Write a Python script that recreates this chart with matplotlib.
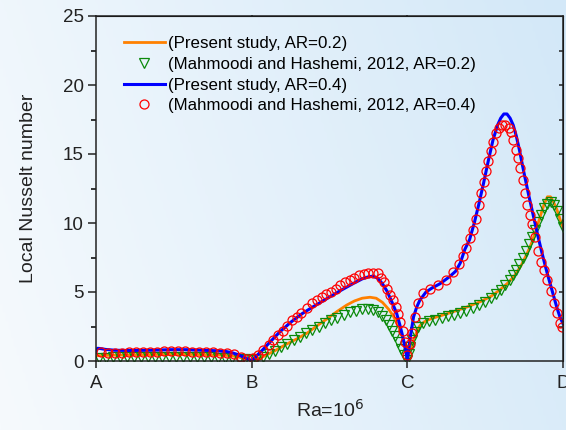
import matplotlib
matplotlib.use("Agg")
import matplotlib.pyplot as plt
import numpy as np
from matplotlib.colors import LinearSegmentedColormap

plt.rcParams['font.family'] = ['Liberation Sans', 'DejaVu Sans']

# 沿壁面 A-B-C-D 的局部努塞尔数
# 本文结果, AR=0.2
x_ar02 = [0.00, 0.10, 0.25, 0.40, 0.55, 0.70, 0.82, 0.88, 0.93, 0.97, 1.00,
          1.04, 1.08, 1.15, 1.22, 1.29, 1.36, 1.42, 1.49, 1.55, 1.61, 1.66, 1.71, 1.76, 1.80, 1.84, 1.88,
          1.91, 1.94, 1.96, 1.98, 2.00,
          2.02, 2.04, 2.06, 2.08, 2.11, 2.15, 2.22, 2.29, 2.38, 2.47, 2.54, 2.60, 2.65, 2.69, 2.73, 2.77,
          2.80, 2.83, 2.86, 2.88, 2.90, 2.92, 2.94, 2.96, 2.98, 3.00]
nu_ar02 = [0.38, 0.42, 0.45, 0.47, 0.48, 0.46, 0.42, 0.36, 0.25, 0.12, 0.05,
           0.15, 0.35, 0.75, 1.20, 1.60, 2.05, 2.55, 3.10, 3.60, 4.05, 4.35, 4.55, 4.62, 4.55, 4.25, 3.75,
           3.25, 2.60, 2.05, 1.30, 0.10,
           0.80, 1.50, 2.10, 2.55, 2.85, 3.05, 3.30, 3.55, 3.90, 4.30, 4.70, 5.20, 5.70, 6.20, 6.90, 7.80,
           8.60, 9.60, 10.70, 11.40, 11.90, 11.90, 11.50, 11.00, 10.30, 9.70]

# Mahmoodi and Hashemi (2012), AR=0.2
x_mh02 = [0.02, 0.065, 0.11, 0.155, 0.20, 0.245, 0.29, 0.335, 0.38, 0.425, 0.47, 0.515, 0.56, 0.605,
          0.65, 0.695, 0.74, 0.785, 0.83, 0.875, 0.92, 0.96, 1.00,
          1.03, 1.07, 1.11, 1.15, 1.19, 1.23, 1.27, 1.31, 1.35, 1.39, 1.43, 1.47, 1.51, 1.55, 1.59, 1.63,
          1.67, 1.71, 1.75, 1.78, 1.81, 1.84, 1.86, 1.88, 1.90, 1.92, 1.94, 1.96, 1.98, 2.00,
          2.01, 2.02, 2.03, 2.05, 2.07, 2.10, 2.14, 2.18, 2.22, 2.26, 2.30, 2.34, 2.38, 2.42, 2.46, 2.50,
          2.54, 2.57, 2.60, 2.63, 2.66, 2.68, 2.70, 2.72, 2.74, 2.76, 2.78, 2.80, 2.82, 2.84, 2.86, 2.88,
          2.90, 2.92, 2.94, 2.96, 2.98, 3.00]
nu_mh02 = [0.25, 0.25, 0.26, 0.26, 0.27, 0.27, 0.28, 0.28, 0.28, 0.28, 0.28, 0.28, 0.27, 0.27,
           0.27, 0.26, 0.26, 0.25, 0.24, 0.22, 0.18, 0.12, 0.06,
           0.12, 0.28, 0.50, 0.75, 1.00, 1.25, 1.50, 1.75, 2.00, 2.25, 2.50, 2.72, 2.95, 3.15, 3.35, 3.52,
           3.65, 3.75, 3.78, 3.72, 3.55, 3.25, 2.95, 2.60, 2.20, 1.80, 1.35, 0.90, 0.45, 0.10,
           0.50, 1.00, 1.50, 2.10, 2.50, 2.75, 2.90, 3.00, 3.10, 3.25, 3.35, 3.50, 3.65, 3.85, 4.05, 4.30,
           4.60, 4.85, 5.15, 5.50, 5.90, 6.20, 6.60, 7.00, 7.50, 8.00, 8.50, 9.00, 9.50, 10.10, 10.60, 11.10,
           11.40, 11.50, 11.30, 10.90, 10.30, 9.70]

# 本文结果, AR=0.4
x_ar04 = [0.00, 0.01, 0.03, 0.06, 0.12, 0.22, 0.35, 0.48, 0.58, 0.68, 0.78, 0.84, 0.88, 0.92, 0.95, 0.98, 1.00,
          1.03, 1.07, 1.12, 1.18, 1.25, 1.32, 1.39, 1.48, 1.57, 1.65, 1.71, 1.75, 1.78, 1.81, 1.84, 1.87,
          1.90, 1.93, 1.95, 1.97, 1.99, 2.00,
          2.01, 2.02, 2.04, 2.06, 2.08, 2.12, 2.16, 2.21, 2.27, 2.31, 2.34, 2.37, 2.40, 2.43, 2.46, 2.49,
          2.52, 2.55, 2.58, 2.60, 2.62, 2.64, 2.66, 2.68, 2.70, 2.72, 2.75, 2.78, 2.81, 2.84, 2.87, 2.90,
          2.93, 2.96, 2.98, 3.00]
nu_ar04 = [0.70, 0.92, 0.90, 0.84, 0.78, 0.76, 0.78, 0.82, 0.82, 0.78, 0.74, 0.68, 0.58, 0.42, 0.28, 0.12, 0.02,
           0.35, 0.80, 1.40, 2.10, 2.80, 3.40, 3.90, 4.50, 5.10, 5.60, 5.95, 6.10, 6.15, 6.00, 5.60, 5.05,
           4.30, 3.50, 2.70, 1.80, 0.75, 0.05,
           0.90, 1.80, 3.20, 3.90, 4.40, 5.00, 5.30, 5.60, 6.10, 6.50, 7.10, 8.10, 8.80, 10.00, 11.40, 12.90,
           14.50, 16.00, 17.10, 17.60, 17.90, 17.90, 17.60, 17.10, 16.30, 15.30, 13.60, 12.00, 10.50, 9.00, 7.60, 6.30,
           5.10, 3.90, 3.20, 2.70]

# Mahmoodi and Hashemi (2012), AR=0.4
x_mh04 = [0.03, 0.075, 0.12, 0.165, 0.21, 0.255, 0.30, 0.345, 0.39, 0.435, 0.48, 0.525, 0.57, 0.615,
          0.66, 0.705, 0.75, 0.795, 0.84, 0.885, 0.93, 0.97,
          1.01, 1.04, 1.075, 1.11, 1.14, 1.17, 1.20, 1.23, 1.26, 1.29, 1.32, 1.355, 1.385, 1.42, 1.45, 1.48,
          1.51, 1.54, 1.57, 1.60, 1.63, 1.66, 1.69, 1.72, 1.75, 1.78, 1.81, 1.83, 1.85, 1.87, 1.89, 1.91,
          1.925, 1.94, 1.955, 1.97, 1.985, 2.00,
          2.015, 2.03, 2.05, 2.07, 2.10, 2.145, 2.20, 2.25, 2.295, 2.33, 2.36, 2.38, 2.40, 2.42, 2.44, 2.46,
          2.475, 2.49, 2.505, 2.52, 2.535, 2.55, 2.57, 2.59, 2.61, 2.63, 2.65, 2.665, 2.68, 2.695, 2.71,
          2.725, 2.74, 2.755, 2.77, 2.785, 2.80, 2.82, 2.84, 2.86, 2.88, 2.90, 2.92, 2.94, 2.96, 2.98, 2.995]
nu_mh04 = [0.62, 0.60, 0.60, 0.60, 0.62, 0.63, 0.65, 0.67, 0.68, 0.70, 0.70, 0.70, 0.69, 0.67,
           0.65, 0.63, 0.62, 0.60, 0.58, 0.50, 0.32, 0.15,
           0.25, 0.45, 0.80, 1.15, 1.50, 1.85, 2.20, 2.55, 2.95, 3.20, 3.45, 3.85, 4.20, 4.45, 4.65, 4.85,
           5.00, 5.25, 5.50, 5.70, 5.85, 6.05, 6.20, 6.30, 6.35, 6.40, 6.35, 6.05, 5.70, 5.25, 4.80, 4.40,
           3.90, 3.40, 2.85, 2.20, 1.40, 0.40,
           1.20, 2.00, 3.20, 4.20, 4.90, 5.25, 5.50, 5.85, 6.45, 7.00, 7.60, 8.20, 8.90, 9.50, 10.30, 11.30,
           12.20, 13.00, 13.80, 14.50, 15.20, 15.90, 16.50, 16.90, 17.10, 17.10, 16.90, 16.60, 16.00, 15.30, 14.70,
           14.00, 13.10, 12.20, 11.30, 10.60, 9.90, 9.00, 8.00, 7.20, 6.60, 5.90, 5.10, 4.20, 3.45, 2.75, 2.50]

wall_ticks = [0, 1, 2, 3]
wall_labels = ['A', 'B', 'C', 'D']
legend_labels = ['(Present study, AR=0.2)', '(Mahmoodi and Hashemi, 2012, AR=0.2)',
                 '(Present study, AR=0.4)', '(Mahmoodi and Hashemi, 2012, AR=0.4)']

fig = plt.figure(figsize=(5.66, 4.30), dpi=100)

# 浅蓝色渐变背景
bg = fig.add_axes([0, 0, 1, 1], zorder=-1)
gx, gy = np.meshgrid(np.linspace(0, 1, 200), np.linspace(0, 1, 150))
grad = 0.8 * gx + 0.2 * (1 - gy)
cmap = LinearSegmentedColormap.from_list('bg', ['#f6fafd', '#d3e8f8'])
bg.imshow(grad, cmap=cmap, aspect='auto', extent=[0, 1, 0, 1], vmin=0, vmax=1)
bg.axis('off')

ax = fig.add_axes([96 / 566, 69 / 430, 467 / 566, 345 / 430])
ax.set_facecolor('none')

ax.plot(x_ar02, nu_ar02, '-', color='#ff8000', lw=2.0, label=legend_labels[0])
ax.plot(x_mh02, nu_mh02, 'v', color='#0b8a0b', mfc='none', ms=6.5, mew=0.9, label=legend_labels[1])
ax.plot(x_ar04, nu_ar04, '-', color='#0000ff', lw=2.2, label=legend_labels[2])
ax.plot(x_mh04, nu_mh04, 'o', color='#ff0000', mfc='none', ms=6.5, mew=0.9, label=legend_labels[3])

ax.set_xlim(0, 3)
ax.set_ylim(0, 25)
ax.set_xticks(wall_ticks)
ax.set_xticklabels(wall_labels)
ax.set_yticks(np.arange(0, 26, 5))
ax.set_yticks(np.arange(0, 25, 2.5), minor=True)

for s in ax.spines.values():
    s.set_linewidth(1.1)
    s.set_color('#222222')

ax.tick_params(axis='x', which='major', direction='out', length=5, width=1.1, pad=5,
               labelsize=13.5, colors='#222222', top=False)
ax.tick_params(axis='y', which='major', direction='out', length=6, width=1.1, pad=3,
               labelsize=13.5, colors='#222222', right=False)
ax.tick_params(axis='y', which='minor', direction='out', length=3.5, width=1.1, right=False)

# 右侧与上方的内向刻度
ax_r = ax.secondary_yaxis('right')
ax_r.set_yticks(np.arange(2.5, 25, 2.5))
ax_r.tick_params(direction='in', length=3, width=1.1, labelright=False, colors='#222222')
ax_t = ax.secondary_xaxis('top')
ax_t.set_xticks([1, 2])
ax_t.tick_params(direction='inout', length=2, width=1.1, labeltop=False, colors='#222222')

ax.set_xlabel('Ra=10$^6$', fontsize=14, color='#222222', labelpad=5)
ax.set_ylabel('Local Nusselt number', fontsize=14, color='#222222', labelpad=18)

ax.legend(loc='upper left', bbox_to_anchor=(0.06, 0.942), frameon=False, fontsize=12.2,
          handlelength=2.4, handletextpad=0.2, labelspacing=0.34, borderpad=0, borderaxespad=0)

fig.savefig('out.png', dpi=100)
